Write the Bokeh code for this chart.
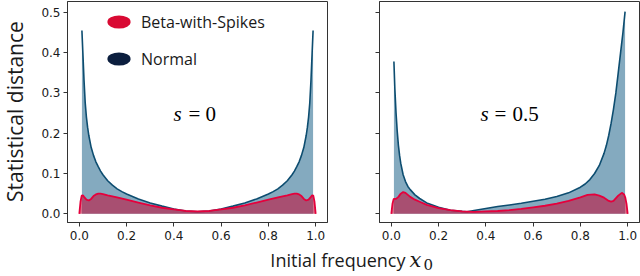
import numpy as np
from bokeh.plotting import figure
from bokeh.models import Range1d, FixedTicker, Legend, LegendItem
from bokeh.layouts import row, column
from bokeh.core.properties import value
from bokeh.embed import file_html
from bokeh.resources import INLINE

# ---------------- data ----------------
series_names = ["Beta-with-Spikes", "Normal"]
s_values = ["0", "0.5"]
x_ticks = [0.0, 0.2, 0.4, 0.6, 0.8, 1.0]
x_tick_labels = ["0.0", "0.2", "0.4", "0.6", "0.8", "1.0"]
y_ticks = [0.0, 0.1, 0.2, 0.3, 0.4, 0.5]
y_tick_labels = ["0.0", "0.1", "0.2", "0.3", "0.4", "0.5"]

# s = 0 : Normal
normal_x_s0 = [0.011, 0.015, 0.02, 0.025, 0.03, 0.035, 0.04, 0.05, 0.06, 0.07, 0.08, 0.09,
               0.10, 0.12, 0.14, 0.16, 0.18, 0.20, 0.25, 0.30, 0.35, 0.40, 0.45, 0.50,
               0.55, 0.60, 0.65, 0.70, 0.75, 0.80, 0.82, 0.84, 0.86, 0.88, 0.90, 0.91,
               0.92, 0.93, 0.94, 0.95, 0.96, 0.965, 0.97, 0.975, 0.98, 0.985, 0.989]
normal_y_s0 = [0.455, 0.40, 0.33, 0.275, 0.24, 0.215, 0.195, 0.165, 0.145, 0.129, 0.117, 0.106,
               0.097, 0.082, 0.071, 0.062, 0.055, 0.049, 0.037, 0.027, 0.019, 0.012, 0.007, 0.005,
               0.007, 0.012, 0.019, 0.027, 0.037, 0.049, 0.055, 0.062, 0.071, 0.082, 0.097, 0.106,
               0.117, 0.129, 0.145, 0.165, 0.195, 0.215, 0.24, 0.275, 0.33, 0.40, 0.455]
# s = 0 : Beta-with-Spikes
spikes_x_s0 = [0.0, 0.005, 0.01, 0.015, 0.02, 0.03, 0.04, 0.05, 0.06, 0.07, 0.08, 0.09, 0.10,
               0.12, 0.15, 0.20, 0.25, 0.30, 0.35, 0.40, 0.45, 0.50, 0.55, 0.60, 0.65, 0.70,
               0.75, 0.80, 0.85, 0.88, 0.90, 0.91, 0.92, 0.93, 0.94, 0.95, 0.96, 0.97, 0.98,
               0.985, 0.99, 0.995, 1.0]
spikes_y_s0 = [0.0, 0.030, 0.045, 0.046, 0.042, 0.035, 0.033, 0.037, 0.044, 0.048, 0.050, 0.050, 0.049,
               0.046, 0.042, 0.035, 0.028, 0.021, 0.015, 0.011, 0.007, 0.006, 0.007, 0.011, 0.015, 0.021,
               0.028, 0.035, 0.042, 0.046, 0.049, 0.050, 0.050, 0.048, 0.044, 0.037, 0.033, 0.035, 0.042,
               0.046, 0.045, 0.030, 0.0]

# s = 0.5 : Normal
normal_x_s05 = [0.011, 0.015, 0.02, 0.025, 0.03, 0.035, 0.04, 0.05, 0.06, 0.07, 0.08, 0.10, 0.12,
                0.15, 0.20, 0.25, 0.30, 0.32, 0.35, 0.40, 0.45, 0.50, 0.55, 0.60, 0.65, 0.70,
                0.75, 0.80, 0.82, 0.84, 0.86, 0.88, 0.90, 0.91, 0.92, 0.93, 0.94, 0.95, 0.96,
                0.97, 0.98, 0.989]
normal_y_s05 = [0.378, 0.31, 0.25, 0.205, 0.17, 0.145, 0.125, 0.097, 0.080, 0.068, 0.060, 0.047, 0.038,
                0.027, 0.016, 0.009, 0.006, 0.005, 0.008, 0.013, 0.018, 0.022, 0.026, 0.031, 0.036, 0.043,
                0.052, 0.066, 0.074, 0.085, 0.100, 0.120, 0.150, 0.170, 0.195, 0.225, 0.260, 0.300, 0.350,
                0.400, 0.450, 0.502]
# s = 0.5 : Beta-with-Spikes
spikes_x_s05 = [0.0, 0.005, 0.01, 0.02, 0.03, 0.04, 0.05, 0.06, 0.07, 0.08, 0.10, 0.12, 0.15,
                0.20, 0.25, 0.30, 0.35, 0.40, 0.45, 0.50, 0.55, 0.60, 0.65, 0.70, 0.75, 0.80,
                0.83, 0.86, 0.88, 0.90, 0.92, 0.93, 0.94, 0.96, 0.975, 0.985, 0.99, 0.995, 1.0]
spikes_y_s05 = [0.0, 0.025, 0.037, 0.037, 0.042, 0.050, 0.054, 0.052, 0.047, 0.042, 0.035, 0.030, 0.022,
                0.014, 0.009, 0.006, 0.005, 0.006, 0.007, 0.009, 0.012, 0.016, 0.020, 0.025, 0.032, 0.041,
                0.047, 0.048, 0.045, 0.040, 0.032, 0.030, 0.032, 0.045, 0.052, 0.048, 0.040, 0.025, 0.0]

# ---------------- style ----------------
NORMAL_LINE = "#0d4d70"
NORMAL_FILL = "#0a5680"
SPIKE_LINE = "#e5003c"
SPIKE_FILL = "#c0133e"
LEGEND_COLORS = ["#d90a33", "#0b1e3e"]
FRAME_COLOR = "#333333"
TEXT_COLOR = "#1a1a1a"

FRAME_W = 260
FRAME_H = 221
TOP = 1
BOTTOM = 23
PANEL_H = TOP + FRAME_H + BOTTOM
Y_RANGE = (-0.0216, 0.527)
YLAB_W = 30


def style_axes(p, show_y_labels):
    p.xgrid.visible = False
    p.ygrid.visible = False
    p.outline_line_color = FRAME_COLOR
    p.outline_line_width = 1
    for ax in (p.xaxis[0], p.yaxis[0]):
        ax.axis_line_color = FRAME_COLOR
        ax.major_tick_line_color = FRAME_COLOR
        ax.minor_tick_line_color = None
        ax.major_tick_out = 4
        ax.major_tick_in = 0
        ax.major_label_text_font = "DejaVu Sans"
        ax.major_label_text_font_size = "12px"
        ax.major_label_text_color = TEXT_COLOR
    p.xaxis.major_label_standoff = 4
    p.yaxis.major_label_standoff = 3
    p.xaxis.ticker = FixedTicker(ticks=x_ticks)
    p.xaxis.major_label_overrides = dict(zip(x_ticks, x_tick_labels))
    p.yaxis.ticker = FixedTicker(ticks=y_ticks)
    if show_y_labels:
        p.yaxis.major_label_overrides = dict(zip(y_ticks, y_tick_labels))
    else:
        p.yaxis.major_label_overrides = {t: "" for t in y_ticks}


def make_panel(left_border, nx, ny, bx, by, s_text, s_offsets, show_y_labels, with_legend):
    p = figure(width=left_border + FRAME_W + 1, height=PANEL_H,
               x_range=Range1d(-0.05, 1.05), y_range=Range1d(*Y_RANGE),
               output_backend="svg", toolbar_location=None, tools="",
               min_border_left=left_border, min_border_right=1,
               min_border_top=TOP, min_border_bottom=BOTTOM)
    style_axes(p, show_y_labels)

    p.varea(x=nx, y1=0, y2=ny, fill_color=NORMAL_FILL, fill_alpha=0.5)
    p.line(x=nx, y=ny, line_color=NORMAL_LINE, line_width=1.6)
    p.varea(x=bx, y1=0, y2=by, fill_color=SPIKE_FILL, fill_alpha=0.6)
    p.line(x=bx, y=by, line_color=SPIKE_LINE, line_width=1.8)

    # s = value annotation (math-style)
    s_off, eq_off, num_off = s_offsets
    common = dict(text_font=value("Liberation Serif"), text_font_size="21px",
                  text_color="black", text_baseline="alphabetic")
    p.text(x=[0.5], y=[0.248], text=["s"], text_font_style="italic",
           text_align="center", x_offset=s_off, **common)
    p.text(x=[0.5], y=[0.248], text=["="], text_align="center", x_offset=eq_off, **common)
    p.text(x=[0.5], y=[0.248], text=[s_text], text_align="left", x_offset=num_off, **common)

    if with_legend:
        dummy = np.array([np.nan])
        rb = p.ellipse(x=dummy, y=dummy, width=23, height=13, width_units="screen",
                       height_units="screen", fill_color=LEGEND_COLORS[0], line_color=None)
        rn = p.ellipse(x=dummy, y=dummy, width=23, height=13, width_units="screen",
                       height_units="screen", fill_color=LEGEND_COLORS[1], line_color=None)
        legend = Legend(items=[LegendItem(label=series_names[0], renderers=[rb]),
                               LegendItem(label=series_names[1], renderers=[rn])],
                        location=(37, 149), orientation="vertical",
                        glyph_width=29, glyph_height=29, spacing=8, padding=0, margin=0,
                        label_standoff=8, label_text_font="Open Sans",
                        label_text_font_size="16px", label_text_color=TEXT_COLOR,
                        border_line_color=None, background_fill_alpha=0)
        p.add_layout(legend)
    return p


p1 = make_panel(67 - YLAB_W, normal_x_s0, normal_y_s0, spikes_x_s0, spikes_y_s0,
                s_values[0], (-20, -3, 8), True, True)
p2 = make_panel(51, normal_x_s05, normal_y_s05, spikes_x_s05, spikes_y_s05,
                s_values[1], (-25, -9, 3), False, False)


def strip(w, h):
    f = figure(width=w, height=h, x_range=Range1d(0, w), y_range=Range1d(0, h),
               output_backend="svg", toolbar_location=None, tools="",
               x_axis_location=None, y_axis_location=None, min_border=0)
    f.outline_line_color = None
    f.xgrid.visible = False
    f.ygrid.visible = False
    return f


# y-axis label strip
ylab = strip(YLAB_W, PANEL_H)
ylab.text(x=[14.5], y=[PANEL_H - 122], text=["Statistical distance"], angle=np.pi / 2,
          text_font=value("Open Sans"), text_font_size="21px", text_color=TEXT_COLOR,
          text_align="center", text_baseline="middle")

# x-axis label strip (texts centred vertically so they stay inside the strip)
XL_H = 276 - PANEL_H
xlab = strip(640, XL_H)
xlab.text(x=[405], y=[XL_H - 14], text=["Initial frequency"], text_font=value("Open Sans"),
          text_font_size="18px", text_color=TEXT_COLOR, text_align="right",
          text_baseline="middle")
xlab.text(x=[409], y=[XL_H - 14], text=["x"], text_font=value("DejaVu Serif"),
          text_font_style="italic", text_font_size="21px", text_color=TEXT_COLOR,
          text_align="left", text_baseline="middle")
xlab.text(x=[423], y=[XL_H - 19], text=["0"], text_font=value("DejaVu Serif"),
          text_font_size="15px", text_color=TEXT_COLOR, text_align="left",
          text_baseline="middle")

layout = column(row(ylab, p1, p2), xlab)
open("out.html", "w").write(file_html(layout, INLINE))
